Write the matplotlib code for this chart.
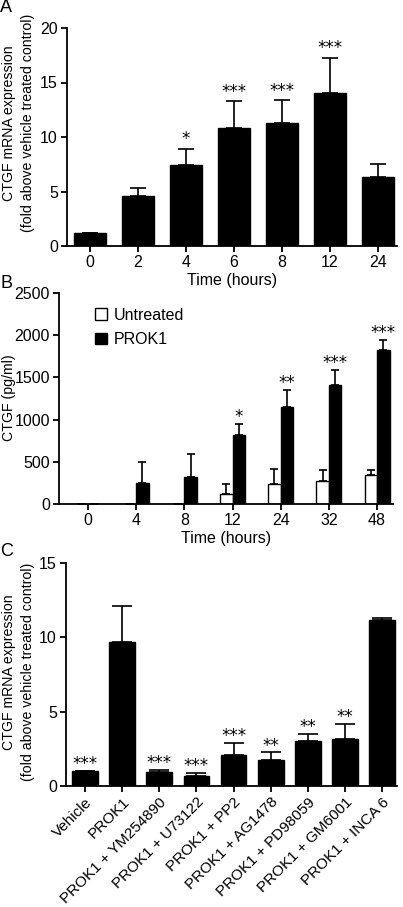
import numpy as np
import matplotlib
matplotlib.use('Agg')
import matplotlib.pyplot as plt

plt.rcParams['font.family'] = ['Liberation Sans', 'DejaVu Sans']
plt.rcParams['font.size'] = 11.5

# panel A: CTGF mRNA time course
times_a = ['0', '2', '4', '6', '8', '12', '24']
mrna_mean = [1.15, 4.6, 7.47, 10.87, 11.28, 14.0, 6.34]
mrna_sem = [0.0, 0.76, 1.47, 2.39, 2.07, 3.25, 1.2]
stars_a = ['', '', '*', '***', '***', '***', '']

# panel B: secreted CTGF protein
times_b = ['0', '4', '8', '12', '24', '32', '48']
untreated_mean = [0, 0, 0, 118, 240, 276, 347]
untreated_sem = [0, 0, 0, 119, 178, 130, 59]
prok1_mean = [0, 249, 314, 819, 1149, 1415, 1828]
prok1_sem = [0, 247, 276, 130, 197, 175, 119]
stars_b = ['', '', '', '*', '**', '***', '***']

# panel C: inhibitors
treatments = ['Vehicle', 'PROK1', 'PROK1 + YM254890', 'PROK1 + U73122',
              'PROK1 + PP2', 'PROK1 + AG1478', 'PROK1 + PD98059',
              'PROK1 + GM6001', 'PROK1 + INCA 6']
inhib_mean = [1.0, 9.69, 0.94, 0.7, 2.06, 1.77, 3.03, 3.18, 11.14]
inhib_sem = [0.0, 2.44, 0.16, 0.17, 0.83, 0.49, 0.47, 1.02, 0.18]
stars_c = ['***', '', '***', '***', '***', '**', '**', '**', '']

W, H = 403, 907
fig = plt.figure(figsize=(W / 100, H / 100), dpi=100)

TICK_FS = 11.5
YLAB_FS = 10.2
MRNA_LINES = ['CTGF mRNA expression', '(fold above vehicle treated control)']


def px_axes(left, top, right, bottom):
    return fig.add_axes([left / W, 1 - bottom / H, (right - left) / W, (bottom - top) / H])


def style(ax):
    for s in ['top', 'right']:
        ax.spines[s].set_visible(False)
    for s in ['left', 'bottom']:
        ax.spines[s].set_linewidth(1.3)
    ax.tick_params(direction='out', length=4.5, width=1.3, labelsize=TICK_FS, pad=2)


def add_stars(ax, xs, tops, stars, offset):
    for x, t, s in zip(xs, tops, stars):
        if s:
            ax.annotate(s, (x, t), xytext=(0, offset), textcoords='offset points',
                        ha='center', va='baseline', fontsize=12, family='DejaVu Sans')


def mrna_ylabel(yc):
    # two rotated lines, drawn separately
    for xpos, line in zip([9, 28], MRNA_LINES):
        fig.text(xpos / W, 1 - yc / H, line, rotation=90, ha='center', va='center',
                 fontsize=YLAB_FS)


err_kw = dict(fmt='none', ecolor='black', elinewidth=1.2, capthick=1.2, zorder=1)

# ---- A ----
ax = px_axes(67, 28, 397, 246)
style(ax)
x = np.arange(len(times_a))
ax.bar(x, mrna_mean, width=0.68, color='black', edgecolor='black', zorder=2)
ax.errorbar(x, mrna_mean, yerr=[np.zeros(len(x)), mrna_sem], capsize=6, **err_kw)
tops = np.array(mrna_mean) + np.array(mrna_sem)
add_stars(ax, x, tops, stars_a, 3.5)
ax.set_xlim(-0.48, 6.4)
ax.set_ylim(0, 20)
ax.set_yticks([0, 5, 10, 15, 20])
ax.set_xticks(x)
ax.set_xticklabels(times_a)
ax.set_xlabel('Time (hours)', labelpad=2.5, fontsize=11.5)
mrna_ylabel(123)
fig.text(0, 1 - 8 / H, 'A', ha='left', va='center', fontsize=13)

# ---- B ----
ax = px_axes(59, 293, 393, 504)
style(ax)
x = np.arange(len(times_b))
bw = 0.26
ax.bar(x - bw / 2, untreated_mean, width=bw, color='white', edgecolor='black',
       linewidth=1.0, zorder=2, label='Untreated')
ax.bar(x + bw / 2, prok1_mean, width=bw, color='black', edgecolor='black',
       linewidth=1.0, zorder=2, label='PROK1')
ax.errorbar(x - bw / 2, untreated_mean, yerr=[np.zeros(len(x)), untreated_sem],
            capsize=2.6, **err_kw)
ax.errorbar(x + bw / 2, prok1_mean, yerr=[np.zeros(len(x)), prok1_sem],
            capsize=2.6, **err_kw)
tops = np.array(prok1_mean) + np.array(prok1_sem)
add_stars(ax, x + bw / 2, tops, stars_b, 1.5)
ax.set_xlim(-0.6, 6.33)
ax.set_ylim(0, 2500)
ax.set_yticks([0, 500, 1000, 1500, 2000, 2500])
ax.set_xticks(x)
ax.set_xticklabels(times_b)
ax.set_xlabel('Time (hours)', labelpad=2.5, fontsize=11.5)
fig.text(9 / W, 1 - 398 / H, 'CTGF (pg/ml)', rotation=90, ha='center', va='center',
         fontsize=YLAB_FS)
ax.legend(loc='upper left', bbox_to_anchor=(0.108, 0.93), frameon=False,
          borderpad=0, borderaxespad=0, handlelength=0.75, handleheight=0.75,
          handletextpad=0.4, labelspacing=0.58, fontsize=11.5)
fig.text(0, 1 - 283 / H, 'B', ha='left', va='center', fontsize=13)

# ---- C ----
ax = px_axes(66, 563, 397, 786)
style(ax)
x = np.arange(len(treatments))
ax.bar(x, inhib_mean, width=0.69, color='black', edgecolor='black', zorder=2)
ax.errorbar(x, inhib_mean, yerr=[np.zeros(len(x)), inhib_sem], capsize=7, **err_kw)
tops = np.array(inhib_mean) + np.array(inhib_sem)
add_stars(ax, x, tops, stars_c, 1.2)
ax.set_xlim(-0.51, 8.4)
ax.set_ylim(0, 15)
ax.set_yticks([0, 5, 10, 15])
ax.set_xticks(x)
ax.set_xticklabels(treatments, rotation=45, ha='right', rotation_mode='anchor',
                   fontsize=11)
mrna_ylabel(672)
fig.text(0, 1 - 552 / H, 'C', ha='left', va='center', fontsize=13)

fig.savefig('out.png', dpi=100)
